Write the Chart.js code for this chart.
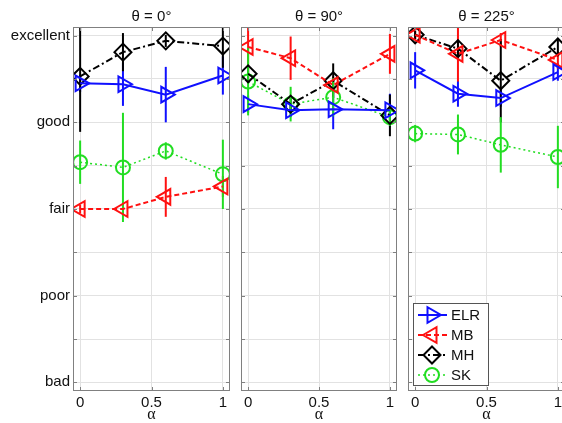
<!DOCTYPE html>
<html>
<head>
<meta charset="utf-8">
<script src="https://cdn.jsdelivr.net/npm/chart.js@4.4.0/dist/chart.umd.min.js"></script>
<style>
body { margin: 0; background: #fff; }
#wrap { position: relative; width: 562px; height: 423px; overflow: hidden; }
#wrap canvas { position: absolute; left: 0; top: 0; }
</style>
</head>
<body>
<div id="wrap">
  <canvas id="p0" width="600" height="423"></canvas>
  <canvas id="p1" width="600" height="423"></canvas>
  <canvas id="p2" width="600" height="423"></canvas>
</div>
<script>
// --- Dados ---
const alphaValues = [0, 0.3, 0.6, 1];
const alphaTicks = [0, 0.5, 1];
const ratingTicks = [1, 1.5, 2, 2.5, 3, 3.5, 4, 4.5, 5];
const ratingLabels = ['bad', 'poor', 'fair', 'good', 'excellent'];
const panelTitles = ['\u03b8 = 0\u00b0', '\u03b8 = 90\u00b0', '\u03b8 = 225\u00b0'];
const seriesNames = ['ELR', 'MB', 'MH', 'SK'];

// one row per panel (theta = 0, 90, 225)
const elrMean = [[4.45, 4.44, 4.32, 4.54], [4.21, 4.14, 4.15, 4.14], [4.60, 4.33, 4.28, 4.58]];
const elrErr  = [[0.10, 0.25, 0.32, 0.22], [0.10, 0.08, 0.23, 0.19], [0.21, 0.15, 0.10, 0.10]];
const mbMean  = [[3.00, 3.00, 3.14, 3.26], [4.87, 4.74, 4.43, 4.79], [5.01, 4.79, 4.95, 4.72]];
const mbErr   = [[0.05, 0.05, 0.23, 0.12], [0.36, 0.25, 0.10, 0.23], [0.05, 0.32, 0.08, 0.10]];
const mhMean  = [[4.53, 4.81, 4.94, 4.88], [4.56, 4.21, 4.48, 4.08], [5.01, 4.85, 4.48, 4.87]];
const mhErr   = [[0.64, 0.22, 0.07, 0.25], [0.10, 0.08, 0.20, 0.24], [0.05, 0.10, 0.48, 0.10]];
const skMean  = [[3.54, 3.48, 3.67, 3.40], [4.47, 4.21, 4.29, 4.06], [3.87, 3.86, 3.74, 3.60]];
const skErr   = [[0.25, 0.63, 0.10, 0.40], [0.39, 0.20, 0.22, 0.10], [0.10, 0.23, 0.32, 0.36]];

// --- Layout ---
const panelLeft = [73, 241, 408];
const panelRight = [230, 397, 565];
const CANVAS_W = 600;
const FONT = '"Liberation Sans", Arial, sans-serif';

const estilos = [
  {color: '#1010ff', width: 2, dash: [], point: 'triangle', rot: 90, r: 9},
  {color: '#ff1010', width: 2, dash: [5, 3], point: 'triangle', rot: -90, r: 9},
  {color: '#000000', width: 2, dash: [7, 3, 2, 3], point: 'rectRot', rot: 0, r: 8.5},
  {color: '#22dd22', width: 1.5, dash: [2, 3], point: 'circle', rot: 0, r: 7}
];

function pontos(medias) {
  return alphaValues.map((a, i) => ({x: a, y: medias[i]}));
}

function montarDatasets(p) {
  const medias = [elrMean[p], mbMean[p], mhMean[p], skMean[p]];
  const erros = [elrErr[p], mbErr[p], mhErr[p], skErr[p]];
  return seriesNames.map((nome, k) => {
    const e = estilos[k];
    return {
      label: nome,
      data: pontos(medias[k]),
      erros: erros[k],
      borderColor: e.color,
      borderWidth: e.width,
      borderDash: e.dash,
      tension: 0,
      fill: false,
      pointStyle: e.point,
      pointRotation: e.rot,
      pointRadius: e.r,
      pointBorderWidth: 2,
      pointBorderColor: e.color,
      pointBackgroundColor: 'rgba(0,0,0,0)'
    };
  });
}

// --- Plugins ---
const errorBars = {
  id: 'errorBars',
  beforeDatasetsDraw(chart) {
    const ctx = chart.ctx, a = chart.chartArea, y = chart.scales.y;
    ctx.save();
    ctx.beginPath();
    ctx.rect(a.left, a.top, a.right - a.left, a.bottom - a.top);
    ctx.clip();
    chart.data.datasets.forEach((ds, k) => {
      const meta = chart.getDatasetMeta(k);
      ctx.strokeStyle = ds.borderColor;
      ctx.lineWidth = 2;
      ctx.setLineDash([]);
      meta.data.forEach((pt, i) => {
        const v = ds.data[i].y, err = ds.erros[i];
        ctx.beginPath();
        ctx.moveTo(pt.x, y.getPixelForValue(v + err));
        ctx.lineTo(pt.x, y.getPixelForValue(v - err));
        ctx.stroke();
      });
    });
    ctx.restore();
  }
};

const moldura = {
  id: 'moldura',
  afterDraw(chart, args, opts) {
    const ctx = chart.ctx, a = chart.chartArea;
    const xs = chart.scales.x, ys = chart.scales.y;
    ctx.save();
    ctx.strokeStyle = '#808080';
    ctx.lineWidth = 1;
    ctx.setLineDash([]);
    ctx.strokeRect(a.left + 0.5, a.top + 0.5, a.right - a.left - 1, a.bottom - a.top - 1);
    ctx.beginPath();
    ratingTicks.forEach(v => {
      const py = Math.round(ys.getPixelForValue(v)) + 0.5;
      ctx.moveTo(a.left, py); ctx.lineTo(a.left + 4, py);
      ctx.moveTo(a.right, py); ctx.lineTo(a.right - 4, py);
    });
    alphaTicks.forEach(v => {
      const px = Math.round(xs.getPixelForValue(v)) + 0.5;
      ctx.moveTo(px, a.bottom); ctx.lineTo(px, a.bottom - 4);
      ctx.moveTo(px, a.top); ctx.lineTo(px, a.top + 4);
    });
    ctx.stroke();

    // title and x label
    ctx.fillStyle = '#111';
    ctx.textAlign = 'center';
    ctx.textBaseline = 'middle';
    ctx.font = '15px ' + FONT;
    ctx.fillText(opts.titulo, (a.left + a.right) / 2, 17);
    ctx.font = '16px "Liberation Serif", "DejaVu Serif", serif';
    ctx.fillText('\u03b1', xs.getPixelForValue(0.5), 415);

    if (opts.legenda) desenharLegenda(ctx, chart);
    ctx.restore();
  }
};

function desenharMarcador(ctx, e, x, y) {
  ctx.beginPath();
  if (e.point === 'circle') {
    ctx.arc(x, y, e.r, 0, Math.PI * 2);
  } else if (e.point === 'rectRot') {
    ctx.moveTo(x, y - e.r); ctx.lineTo(x + e.r, y);
    ctx.lineTo(x, y + e.r); ctx.lineTo(x - e.r, y);
    ctx.closePath();
  } else {
    let rad = e.rot * Math.PI / 180;
    for (let j = 0; j < 3; j++) {
      const px = x + Math.sin(rad) * e.r, py = y - Math.cos(rad) * e.r;
      if (j === 0) ctx.moveTo(px, py); else ctx.lineTo(px, py);
      rad += Math.PI * 2 / 3;
    }
    ctx.closePath();
  }
  ctx.stroke();
}

function desenharLegenda(ctx, chart) {
  const bx = 413, by = 303, bw = 75, bh = 82;
  ctx.fillStyle = '#fff';
  ctx.fillRect(bx, by, bw, bh);
  ctx.strokeStyle = '#555';
  ctx.lineWidth = 1;
  ctx.strokeRect(bx + 0.5, by + 0.5, bw, bh);
  ctx.font = '15px ' + FONT;
  ctx.textAlign = 'left';
  ctx.textBaseline = 'middle';
  chart.data.datasets.forEach((ds, k) => {
    const e = estilos[k];
    const y = 315 + k * 20;
    ctx.strokeStyle = e.color;
    ctx.lineWidth = e.width;
    ctx.setLineDash(e.dash);
    ctx.beginPath();
    ctx.moveTo(418, y); ctx.lineTo(447, y);
    ctx.stroke();
    ctx.setLineDash([]);
    ctx.lineWidth = 2;
    desenharMarcador(ctx, e, 432, y);
    ctx.fillStyle = '#111';
    ctx.fillText(ds.label, 451, y + 1);
  });
}

// --- Gráficos ---
function criarPainel(p) {
  const yW = p === 0 ? 73 : 5;
  new Chart(document.getElementById('p' + p), {
    type: 'line',
    data: {datasets: montarDatasets(p)},
    options: {
      responsive: false,
      animation: false,
      events: [],
      layout: {padding: {left: panelLeft[p] - yW, right: CANVAS_W - panelRight[p], top: 27, bottom: 0}},
      plugins: {
        legend: {display: false},
        tooltip: {enabled: false},
        moldura: {titulo: panelTitles[p], legenda: p === 2}
      },
      scales: {
        x: {
          type: 'linear', min: -0.05, max: 1.05,
          afterBuildTicks: s => { s.ticks = alphaTicks.map(v => ({value: v})); },
          afterFit: s => { s.height = 32; },
          ticks: {callback: v => String(v), font: {family: FONT, size: 15}, color: '#111', padding: 3, maxRotation: 0, autoSkip: false},
          grid: {color: '#e2e2e2', drawTicks: false},
          border: {display: false}
        },
        y: {
          type: 'linear', min: 0.9, max: 5.1,
          afterBuildTicks: s => { s.ticks = ratingTicks.map(v => ({value: v})); },
          afterFit: s => { s.width = yW; },
          ticks: {
            callback: v => (p === 0 && Number.isInteger(v)) ? ratingLabels[v - 1] : '',
            font: {family: FONT, size: 15}, color: '#111', padding: 3, autoSkip: false
          },
          grid: {color: '#e2e2e2', drawTicks: false},
          border: {display: false}
        }
      }
    },
    plugins: [errorBars, moldura]
  });
}

window.onload = function () {
  [0, 1, 2].forEach(criarPainel);
};
</script>
</body>
</html>
